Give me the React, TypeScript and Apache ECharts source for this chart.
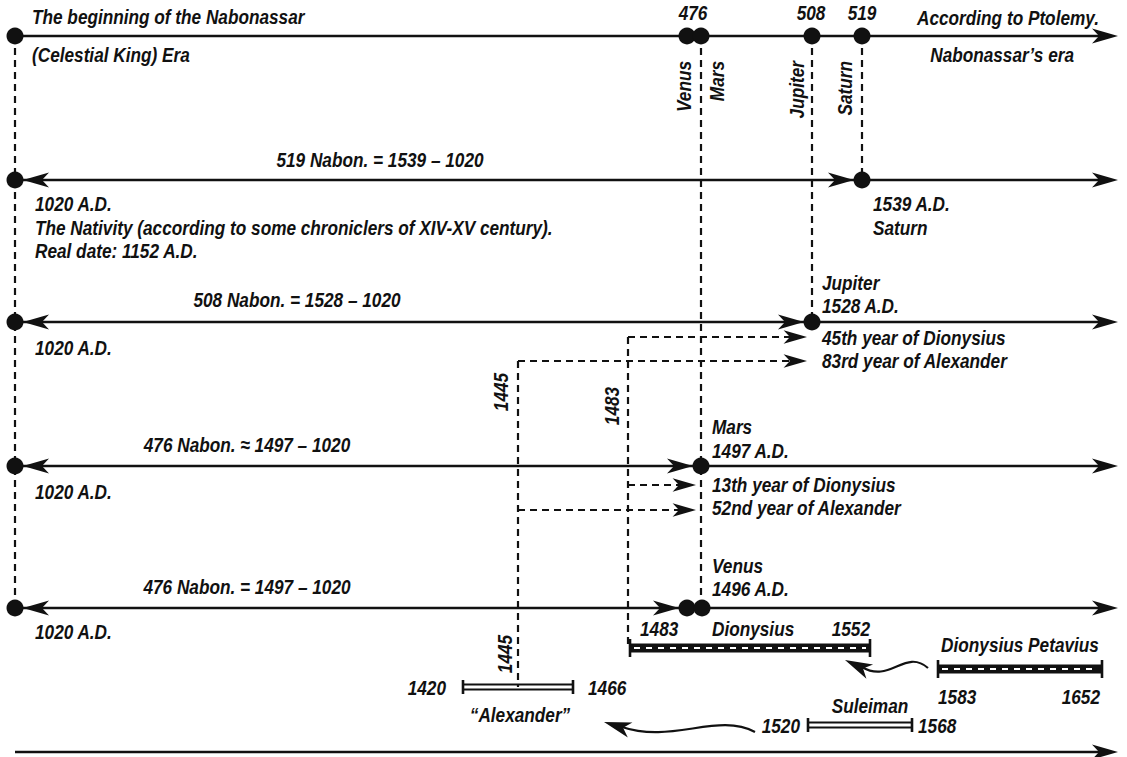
import React, { useEffect, useRef } from "react";
import * as echarts from "echarts";

const W = 1127;
const H = 757;

// ---------- data ----------
const planets = ["Venus", "Mars", "Jupiter", "Saturn"];
const nabonassarYears = [476, 476, 508, 519];
const planetYearsAD = [1496, 1497, 1528, 1539];
const baseYearAD = 1020;
const realNativityAD = 1152;
const dionysiusYear = [13, 45];
const alexanderYear = [52, 83];
const periodNames = ["“Alexander”", "Dionysius", "Dionysius Petavius", "Suleiman"];
const periodStart = [1420, 1483, 1583, 1520];
const periodEnd = [1466, 1552, 1652, 1568];
const pointerYears = [1445, 1483];

// ---------- layout (pixel space of the hidden axes) ----------
const rowY = [36, 180, 322, 466, 608];
const bottomY = 752;
const leftX = 15;
const rightX = 1118;
const topDotX = [687, 701, 812, 862];

const solidSegments: number[][] = [
  [leftX, rowY[0], rightX - 12, rowY[0]],
  [leftX, rowY[1], rightX - 12, rowY[1]],
  [leftX, rowY[2], rightX - 12, rowY[2]],
  [leftX, rowY[3], rightX - 12, rowY[3]],
  [leftX, rowY[4], rightX - 12, rowY[4]],
  [leftX, bottomY, rightX - 12, bottomY],
];

// tip x, tip y, angle (deg, 0 = right), size scale
const arrowHeads: number[][] = [
  [rightX, rowY[0], 0, 1], [rightX, rowY[1], 0, 1], [rightX, rowY[2], 0, 1],
  [rightX, rowY[3], 0, 1], [rightX, rowY[4], 0, 1], [rightX, bottomY, 0, 1],
  [23, rowY[1], 180, 1], [23, rowY[2], 180, 1], [23, rowY[3], 180, 1], [23, rowY[4], 180, 1],
  [854, rowY[1], 0, 1], [804, rowY[2], 0, 1], [693, rowY[3], 0, 1], [679, rowY[4], 0, 1],
  [807, 337, 0, 0.9], [807, 361, 0, 0.9], [696, 485, 0, 0.9], [696, 510, 0, 0.9],
  [845, 660, 205, 1.05], [604, 722, 197, 1.05],
];

const dashedSegments: number[][] = [
  [leftX, rowY[0], leftX, rowY[4]],
  [topDotX[1], rowY[0], topDotX[1], rowY[4]],
  [topDotX[2], rowY[0], topDotX[2], rowY[2]],
  [topDotX[3], rowY[0], topDotX[3], rowY[1]],
  [628, 337, 628, 648],
  [628, 337, 790, 337],
  [628, 485, 680, 485],
  [518, 361, 518, 687],
  [518, 361, 790, 361],
  [518, 510, 680, 510],
];

const dots: number[][] = [
  [leftX, rowY[0]], [topDotX[0], rowY[0]], [topDotX[1], rowY[0]], [topDotX[2], rowY[0]], [topDotX[3], rowY[0]],
  [leftX, rowY[1]], [topDotX[3], rowY[1]],
  [leftX, rowY[2]], [topDotX[2], rowY[2]],
  [leftX, rowY[3]], [topDotX[1], rowY[3]],
  [leftX, rowY[4]], [topDotX[0], rowY[4]], [topDotX[1] + 1, rowY[4]],
];

// x1, x2, y, kind (0 = double line, 1 = striped)
const bars: number[][] = [
  [463, 573, 687, 0],
  [630, 870, 648, 1],
  [938, 1102, 669, 1],
  [808, 912, 725, 0],
];

// start, cp1, cp2, end
const curves: number[][] = [
  [928, 668, 905, 648, 890, 684, 862, 667],
  [755, 732, 718, 712, 672, 744, 622, 727],
];

const labelTexts: string[] = [
  "The beginning of the Nabonassar",
  "(Celestial King) Era",
  String(nabonassarYears[0]),
  String(nabonassarYears[2]),
  String(nabonassarYears[3]),
  "According to Ptolemy.",
  "Nabonassar’s era",
  planets[0], planets[1], planets[2], planets[3],
  `${nabonassarYears[3]} Nabon. = ${planetYearsAD[3]} – ${baseYearAD}`,
  `${baseYearAD} A.D.`,
  "The Nativity (according to some chroniclers of XIV-XV century).",
  `Real date: ${realNativityAD} A.D.`,
  `${planetYearsAD[3]} A.D.`,
  planets[3],
  `${nabonassarYears[2]} Nabon. = ${planetYearsAD[2]} – ${baseYearAD}`,
  `${baseYearAD} A.D.`,
  planets[2],
  `${planetYearsAD[2]} A.D.`,
  `${dionysiusYear[1]}th year of Dionysius`,
  `${alexanderYear[1]}rd year of Alexander`,
  String(pointerYears[0]),
  String(pointerYears[1]),
  `${nabonassarYears[1]} Nabon. ≈ ${planetYearsAD[1]} – ${baseYearAD}`,
  `${baseYearAD} A.D.`,
  planets[1],
  `${planetYearsAD[1]} A.D.`,
  `${dionysiusYear[0]}th year of Dionysius`,
  `${alexanderYear[0]}nd year of Alexander`,
  `${nabonassarYears[0]} Nabon. = ${planetYearsAD[1]} – ${baseYearAD}`,
  `${baseYearAD} A.D.`,
  planets[0],
  `${planetYearsAD[0]} A.D.`,
  String(periodStart[1]),
  periodNames[1],
  String(periodEnd[1]),
  String(pointerYears[0]),
  String(periodStart[0]),
  String(periodEnd[0]),
  periodNames[0],
  periodNames[2],
  String(periodStart[2]),
  String(periodEnd[2]),
  periodNames[3],
  String(periodStart[3]),
  String(periodEnd[3]),
];

// x, y, align (0 left, 1 center, 2 right), rotation deg
const labelPos: number[][] = [
  [32, 17, 0, 0],
  [32, 55, 0, 0],
  [693, 13, 1, 0],
  [811, 13, 1, 0],
  [862, 13, 1, 0],
  [1099, 18, 2, 0],
  [1074, 55, 2, 0],
  [684, 61, 2, 90], [717, 61, 2, 90], [797, 61, 2, 90], [845, 61, 2, 90],
  [380, 160, 1, 0],
  [35, 204, 0, 0],
  [35, 228, 0, 0],
  [35, 251, 0, 0],
  [873, 204, 0, 0],
  [873, 228, 0, 0],
  [297, 300, 1, 0],
  [35, 348, 0, 0],
  [822, 283, 0, 0],
  [822, 306, 0, 0],
  [822, 338, 0, 0],
  [822, 361, 0, 0],
  [501, 392, 1, 90],
  [612, 406, 1, 90],
  [247, 445, 1, 0],
  [35, 492, 0, 0],
  [712, 427, 0, 0],
  [712, 451, 0, 0],
  [712, 485, 0, 0],
  [712, 508, 0, 0],
  [247, 587, 1, 0],
  [35, 632, 0, 0],
  [712, 566, 0, 0],
  [712, 589, 0, 0],
  [640, 629, 0, 0],
  [712, 629, 0, 0],
  [870, 629, 2, 0],
  [505, 654, 1, 90],
  [446, 688, 2, 0],
  [588, 688, 0, 0],
  [520, 715, 1, 0],
  [1020, 645, 1, 0],
  [938, 697, 0, 0],
  [1100, 697, 2, 0],
  [870, 706, 1, 0],
  [800, 726, 2, 0],
  [918, 726, 0, 0],
];

const FONT = '"Liberation Sans", Arial, Helvetica, sans-serif';
const TEXT_SQUEEZE = 0.82;
const FONT_SIZE = 21;
const ALIGNS = ["left", "center", "right"];
const INK = "#111";

export default function App() {
  const ref = useRef<HTMLDivElement>(null);
  useEffect(() => {
    if (!ref.current) return;
    const chart = echarts.init(ref.current, undefined, { renderer: "svg" });

    const lineItem = (params: any, api: any) => {
      const a = api.coord([api.value(0), api.value(1)]);
      const b = api.coord([api.value(2), api.value(3)]);
      return { type: "line", shape: { x1: a[0], y1: a[1], x2: b[0], y2: b[1] }, style: { stroke: INK, lineWidth: 2.6 } };
    };
    const dashItem = (params: any, api: any) => {
      const a = api.coord([api.value(0), api.value(1)]);
      const b = api.coord([api.value(2), api.value(3)]);
      return { type: "line", shape: { x1: a[0], y1: a[1], x2: b[0], y2: b[1] }, style: { stroke: INK, lineWidth: 2.2, lineDash: [7, 5] } };
    };
    const arrowItem = (params: any, api: any) => {
      const t = api.coord([api.value(0), api.value(1)]);
      const ang = (api.value(2) * Math.PI) / 180;
      const s = api.value(3);
      const L = 26 * s, Wd = 7.5 * s, N = 19 * s;
      const c = Math.cos(ang), sn = Math.sin(ang);
      const pt = (dx: number, dy: number) => [t[0] + dx * c - dy * sn, t[1] + dx * sn + dy * c];
      return { type: "polygon", shape: { points: [pt(0, 0), pt(-L, -Wd), pt(-N, 0), pt(-L, Wd)] }, style: { fill: INK } };
    };
    const barItem = (params: any, api: any) => {
      const a = api.coord([api.value(0), api.value(2)]);
      const b = api.coord([api.value(1), api.value(2)]);
      const kind = api.value(3);
      const y = a[1];
      const children: any[] = [];
      if (kind === 0) {
        children.push({ type: "line", shape: { x1: a[0], y1: y - 2.5, x2: b[0], y2: y - 2.5 }, style: { stroke: INK, lineWidth: 1.8 } });
        children.push({ type: "line", shape: { x1: a[0], y1: y + 2.5, x2: b[0], y2: y + 2.5 }, style: { stroke: INK, lineWidth: 1.8 } });
        children.push({ type: "line", shape: { x1: a[0], y1: y - 7, x2: a[0], y2: y + 7 }, style: { stroke: INK, lineWidth: 2.6 } });
        children.push({ type: "line", shape: { x1: b[0], y1: y - 7, x2: b[0], y2: y + 7 }, style: { stroke: INK, lineWidth: 2.6 } });
      } else {
        children.push({ type: "rect", shape: { x: a[0], y: y - 4.5, width: b[0] - a[0], height: 9 }, style: { fill: INK } });
        children.push({ type: "line", shape: { x1: a[0] + 4, y1: y, x2: b[0] - 4, y2: y }, style: { stroke: "#fff", lineWidth: 2, lineDash: [6, 6] } });
        children.push({ type: "line", shape: { x1: a[0], y1: y - 9, x2: a[0], y2: y + 9 }, style: { stroke: INK, lineWidth: 2.6 } });
        children.push({ type: "line", shape: { x1: b[0], y1: y - 9, x2: b[0], y2: y + 9 }, style: { stroke: INK, lineWidth: 2.6 } });
      }
      return { type: "group", children };
    };
    const curveItem = (params: any, api: any) => {
      const p = [0, 1, 2, 3].map((i) => api.coord([api.value(2 * i), api.value(2 * i + 1)]));
      return {
        type: "bezierCurve",
        shape: { x1: p[0][0], y1: p[0][1], cpx1: p[1][0], cpy1: p[1][1], cpx2: p[2][0], cpy2: p[2][1], x2: p[3][0], y2: p[3][1] },
        style: { stroke: INK, lineWidth: 2.2, fill: "none" },
      };
    };
    const labelItem = (params: any, api: any) => {
      const p = api.coord([api.value(0), api.value(1)]);
      const lp = labelPos[params.dataIndex];
      return {
        type: "text",
        x: p[0],
        y: p[1],
        rotation: (lp[3] * Math.PI) / 180,
        scaleX: TEXT_SQUEEZE,
        scaleY: 1,
        style: {
          text: labelTexts[params.dataIndex],
          x: 0,
          y: 0,
          align: ALIGNS[lp[2]],
          verticalAlign: "middle",
          fill: INK,
          fontFamily: FONT,
          fontStyle: "italic",
          fontWeight: "bold",
          fontSize: FONT_SIZE,
        },
      };
    };

    chart.setOption({
      animation: false,
      backgroundColor: "#fff",
      grid: { left: 0, right: 0, top: 0, bottom: 0 },
      xAxis: { type: "value", min: 0, max: W, show: false },
      yAxis: { type: "value", min: 0, max: H, inverse: true, show: false },
      series: [
        { type: "custom", name: "dashed", data: dashedSegments, renderItem: dashItem, clip: false, silent: true },
        { type: "custom", name: "lines", data: solidSegments, renderItem: lineItem, clip: false, silent: true },
        { type: "custom", name: "bars", data: bars, renderItem: barItem, clip: false, silent: true },
        { type: "custom", name: "curves", data: curves, renderItem: curveItem, clip: false, silent: true },
        { type: "custom", name: "arrows", data: arrowHeads, renderItem: arrowItem, clip: false, silent: true },
        { type: "scatter", name: "dots", data: dots, symbol: "circle", symbolSize: 17, itemStyle: { color: INK, opacity: 1 }, silent: true },
        { type: "custom", name: "labels", data: labelPos.map((l) => [l[0], l[1]]), renderItem: labelItem, clip: false, silent: true },
      ],
    });
    return () => chart.dispose();
  }, []);
  return (
    <div
      ref={ref}
      style={{ position: "absolute", left: 0, top: 0, width: W, height: H, background: "#fff" }}
    />
  );
}
